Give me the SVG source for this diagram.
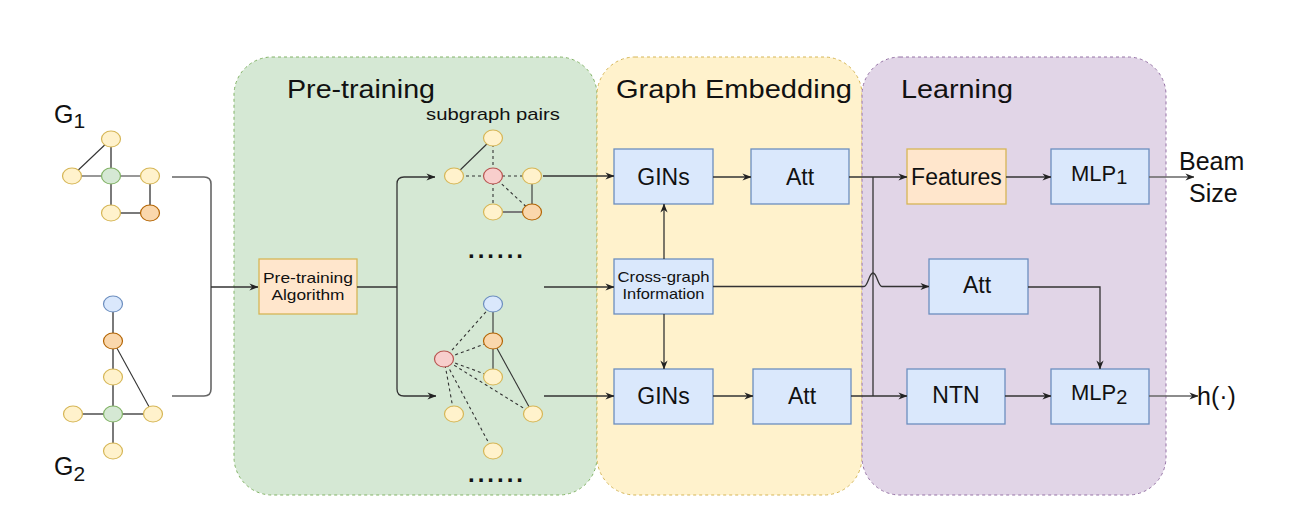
<svg xmlns="http://www.w3.org/2000/svg" width="1293" height="512" viewBox="0 0 1293 512">
<defs>
<marker id="ah" viewBox="0 0 10 10" refX="9.5" refY="5" markerWidth="9" markerHeight="9" markerUnits="userSpaceOnUse" orient="auto"><path d="M0,1 L10,5 L0,9 L3,5 z" fill="#222"/></marker>
</defs>
<style>
text{font-family:"Liberation Sans",Arial,Helvetica,sans-serif;fill:#111}
.title{font-size:26px}
.lbl{font-size:23px;text-anchor:middle}
.sm{font-size:15px;text-anchor:middle}
.big{font-size:25px}
.box-b{fill:#dae8fc;stroke:#6c8ebf;stroke-width:1.3}
.box-o{fill:#ffe6cc;stroke:#d6b656;stroke-width:1.3}
.ny{fill:#fff2cc;stroke:#d6b656;stroke-width:1.2}
.ng{fill:#d5e8d4;stroke:#82b366;stroke-width:1.2}
.no{fill:#fad7ac;stroke:#b46504;stroke-width:1.2}
.nb{fill:#dae8fc;stroke:#6c8ebf;stroke-width:1.2}
.np{fill:#f8cecc;stroke:#b85450;stroke-width:1.2}
.eg{stroke:#7a7a7a;stroke-width:2;fill:none}
.ed{stroke:#333;stroke-width:1.1;fill:none}
.ex{stroke:#333;stroke-width:1.1;fill:none;stroke-dasharray:3 3}
.c{stroke:#333;stroke-width:1.3;fill:none}
.cg{stroke:#666;stroke-width:1.6;fill:none}
.arr{marker-end:url(#ah)}
</style>

<g id="panel-pretraining">
<rect x="234" y="57" width="363" height="438" rx="38" ry="38" fill="#d5e8d4" stroke="#82b366" stroke-width="1" stroke-dasharray="3 3"/>
<text class="title" x="287" y="98" textLength="148" lengthAdjust="spacingAndGlyphs">Pre-training</text>
</g>
<g id="panel-embedding">
<rect x="597" y="57" width="265" height="438" rx="38" ry="38" fill="#fff2cc" stroke="#d6b656" stroke-width="1" stroke-dasharray="3 3"/>
<text class="title" x="616" y="98" textLength="236" lengthAdjust="spacingAndGlyphs">Graph Embedding</text>
</g>
<g id="panel-learning">
<rect x="862" y="57" width="304" height="438" rx="38" ry="38" fill="#e1d5e7" stroke="#9673a6" stroke-width="1" stroke-dasharray="3 3"/>
<text class="title" x="901" y="98" textLength="112" lengthAdjust="spacingAndGlyphs">Learning</text>
</g>

<g id="graph-G1">
<text class="big" x="54" y="123">G<tspan font-size="21" dy="5">1</tspan></text>
<line class="eg" x1="111" y1="139" x2="111" y2="176"/>
<line class="ed" x1="111" y1="139" x2="72" y2="176"/>
<line class="ed" x1="72" y1="176" x2="111" y2="176"/>
<line class="ed" x1="111" y1="176" x2="150" y2="176"/>
<line class="eg" x1="111" y1="176" x2="111" y2="213"/>
<line class="eg" x1="111" y1="213" x2="150" y2="213"/>
<line class="eg" x1="150" y1="176" x2="150" y2="213"/>
<ellipse class="ny" cx="111" cy="139" rx="9.5" ry="8"/>
<ellipse class="ny" cx="72" cy="176" rx="9.5" ry="8"/>
<ellipse class="ng" cx="111" cy="176" rx="9.5" ry="8"/>
<ellipse class="ny" cx="150" cy="176" rx="9.5" ry="8"/>
<ellipse class="ny" cx="111" cy="213" rx="9.5" ry="8"/>
<ellipse class="no" cx="150" cy="213" rx="9.5" ry="8"/>
</g>

<g id="graph-G2">
<text class="big" x="54" y="475">G<tspan font-size="21" dy="6">2</tspan></text>
<line class="eg" x1="113" y1="304" x2="113" y2="341"/>
<line class="eg" x1="113" y1="341" x2="113" y2="414"/>
<line class="ed" x1="113" y1="341" x2="153" y2="414"/>
<line class="eg" x1="73" y1="414" x2="153" y2="414"/>
<line class="eg" x1="113" y1="414" x2="113" y2="451"/>
<ellipse class="nb" cx="113" cy="304" rx="9.5" ry="8"/>
<ellipse class="no" cx="113" cy="341" rx="9.5" ry="8"/>
<ellipse class="ny" cx="113" cy="377" rx="9.5" ry="8"/>
<ellipse class="ny" cx="73" cy="414" rx="9.5" ry="8"/>
<ellipse class="ng" cx="113" cy="414" rx="9.5" ry="8"/>
<ellipse class="ny" cx="153" cy="414" rx="9.5" ry="8"/>
<ellipse class="ny" cx="113" cy="451" rx="9.5" ry="8"/>
</g>

<g id="node-pretraining-algorithm">
<rect class="box-o" x="259" y="259" width="98" height="55"/>
<text class="sm" x="308" y="283" textLength="90" lengthAdjust="spacingAndGlyphs">Pre-training</text>
<text class="sm" x="308" y="300" textLength="73" lengthAdjust="spacingAndGlyphs">Algorithm</text>
</g>

<g id="subgraph-pair-1">
<text x="493" y="120" font-size="17" text-anchor="middle" textLength="134" lengthAdjust="spacingAndGlyphs">subgraph pairs</text>
<line class="ed" x1="493" y1="138" x2="454" y2="176"/>
<line class="ex" x1="493" y1="138" x2="493" y2="176"/>
<line class="ex" x1="454" y1="176" x2="532" y2="176"/>
<line class="ex" x1="493" y1="176" x2="493" y2="212"/>
<line class="ex" x1="493" y1="176" x2="532" y2="212"/>
<line class="ed" x1="532" y1="176" x2="532" y2="212"/>
<line class="eg" x1="493" y1="212" x2="532" y2="212"/>
<ellipse class="ny" cx="493" cy="138" rx="9.5" ry="8"/>
<ellipse class="ny" cx="454" cy="176" rx="9.5" ry="8"/>
<ellipse class="np" cx="493" cy="176" rx="9.5" ry="8"/>
<ellipse class="ny" cx="532" cy="176" rx="9.5" ry="8"/>
<ellipse class="ny" cx="493" cy="212" rx="9.5" ry="8"/>
<ellipse class="no" cx="532" cy="212" rx="9.5" ry="8"/>
<text x="468" y="258" font-size="24" font-weight="bold" textLength="55" lengthAdjust="spacing">......</text>
</g>

<g id="subgraph-pair-2">
<line class="ed" x1="493" y1="304" x2="493" y2="377"/>
<line class="ed" x1="493" y1="341" x2="533" y2="414"/>
<line class="ex" x1="444" y1="359" x2="493" y2="304"/>
<line class="ex" x1="444" y1="359" x2="493" y2="341"/>
<line class="ex" x1="444" y1="359" x2="493" y2="377"/>
<line class="ex" x1="444" y1="359" x2="533" y2="414"/>
<line class="ex" x1="444" y1="359" x2="454" y2="414"/>
<line class="ex" x1="444" y1="359" x2="493" y2="451"/>
<ellipse class="nb" cx="493" cy="304" rx="9.5" ry="8"/>
<ellipse class="no" cx="493" cy="341" rx="9.5" ry="8"/>
<ellipse class="np" cx="444" cy="359" rx="9.5" ry="8"/>
<ellipse class="ny" cx="493" cy="377" rx="9.5" ry="8"/>
<ellipse class="ny" cx="454" cy="414" rx="9.5" ry="8"/>
<ellipse class="ny" cx="533" cy="414" rx="9.5" ry="8"/>
<ellipse class="ny" cx="493" cy="451" rx="9.5" ry="8"/>
<text x="468" y="482" font-size="24" font-weight="bold" textLength="55" lengthAdjust="spacing">......</text>
</g>

<g id="node-gins-1"><rect class="box-b" x="614" y="149" width="99" height="55"/><text class="lbl" x="663.5" y="185">GINs</text></g>
<g id="node-att-1"><rect class="box-b" x="751" y="149" width="98" height="55"/><text class="lbl" x="800" y="185">Att</text></g>
<g id="node-cross-graph"><rect class="box-b" x="614" y="259" width="99" height="55"/>
<text class="sm" x="663.5" y="282" font-size="14.5" textLength="92" lengthAdjust="spacingAndGlyphs">Cross-graph</text>
<text class="sm" x="663.5" y="299" font-size="14.5" textLength="82" lengthAdjust="spacingAndGlyphs">Information</text></g>
<g id="node-gins-2"><rect class="box-b" x="614" y="369" width="99" height="55"/><text class="lbl" x="663.5" y="404">GINs</text></g>
<g id="node-att-2"><rect class="box-b" x="753" y="369" width="98" height="55"/><text class="lbl" x="802" y="404">Att</text></g>

<g id="node-features"><rect class="box-o" x="907" y="149" width="99" height="55"/><text class="lbl" x="956.5" y="185" font-size="22">Features</text></g>
<g id="node-mlp1"><rect class="box-b" x="1051" y="149" width="98" height="55"/><text x="1071" y="181" font-size="22">MLP<tspan font-size="20" dy="3">1</tspan></text></g>
<g id="node-att-3"><rect class="box-b" x="929" y="259" width="99" height="55"/><text class="lbl" x="977" y="293">Att</text></g>
<g id="node-ntn"><rect class="box-b" x="907" y="369" width="98" height="55"/><text class="lbl" x="956" y="403" font-size="22">NTN</text></g>
<g id="node-mlp2"><rect class="box-b" x="1051" y="369" width="98" height="55"/><text x="1071" y="400" font-size="22">MLP<tspan font-size="20" dy="4">2</tspan></text></g>

<g id="output-beam-size"><text class="big" x="1179" y="170">Beam</text><text class="big" x="1189" y="202">Size</text></g>
<g id="output-h"><text class="big" x="1197" y="405">h(·)</text></g>

<g id="connectors">
<path class="cg" d="M172,177 H204 Q211,177 211,184 V389 Q211,396 204,396 H172"/>
<path class="c arr" d="M211,287 H258"/>
<path class="c" d="M357,287 H397"/>
<path class="c arr" d="M397,287 V184 Q397,177 404,177 H435"/>
<path class="c arr" d="M397,287 V389 Q397,396 404,396 H436"/>
<path class="c arr" d="M543,176 H614"/>
<path class="c arr" d="M544,287 H614"/>
<path class="c arr" d="M544,396 H614"/>
<path class="c arr" d="M713,177 H751"/>
<path class="c arr" d="M713,396 H753"/>
<path class="c arr" d="M664,259 V204"/>
<path class="c arr" d="M664,314 V369"/>
<path class="c arr" d="M849,177 H907"/>
<path class="c arr" d="M851,396 H907"/>
<path class="c" d="M873,177 V396"/>
<path class="c arr" d="M713,286.5 H864 C868,286.5 869,273 873,273 C877,273 878,286.5 882,286.5 H929"/>
<path class="c arr" d="M1006,177 H1051"/>
<path class="c arr" d="M1005,396 H1051"/>
<path class="c arr" d="M1028,287 H1100 V369"/>
<path class="cg arr" d="M1149,177 H1194"/>
<path class="cg arr" d="M1149,396 H1198"/>
</g>
</svg>
